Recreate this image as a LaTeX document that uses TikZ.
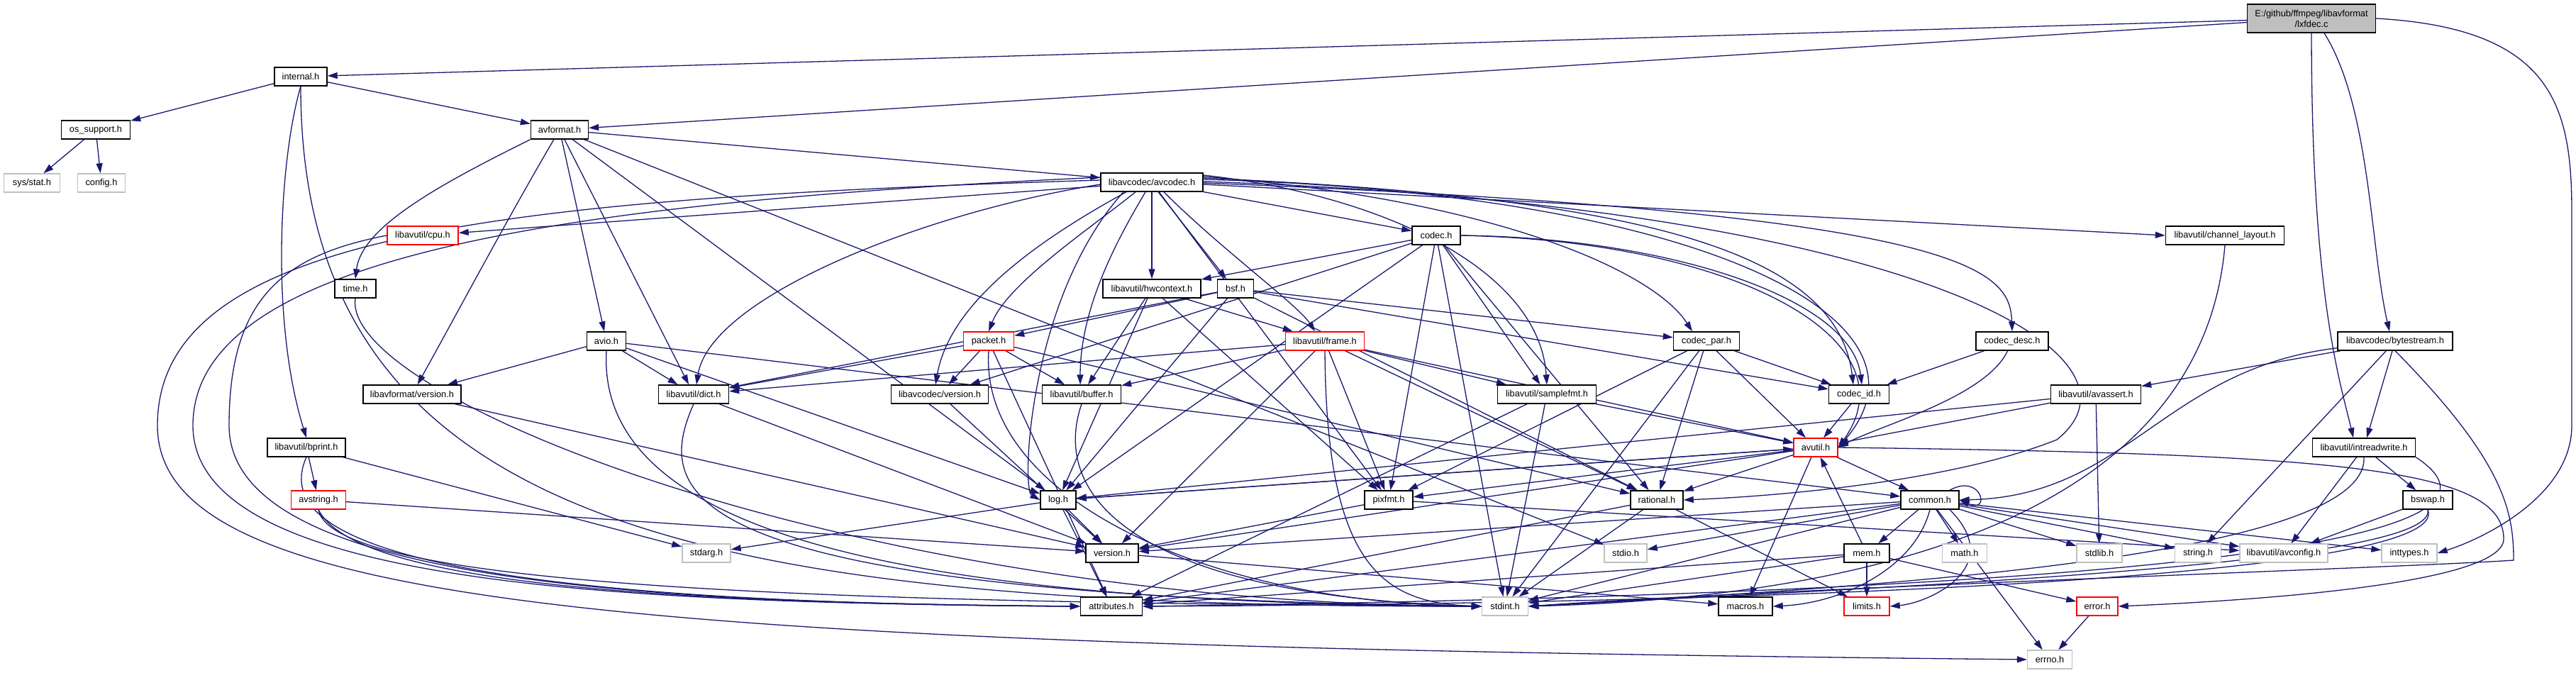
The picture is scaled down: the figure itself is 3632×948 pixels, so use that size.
\documentclass[tikz,border=0pt]{standalone}
\usepackage{fontspec}
\setmainfont{Liberation Sans}
\usetikzlibrary{arrows.meta}
\pgfdeclarelayer{bgl}
\pgfdeclarelayer{edges}
\pgfsetlayers{bgl,edges,main}
\definecolor{edgecol}{RGB}{25,25,112}
\definecolor{sysgray}{RGB}{191,191,191}
\definecolor{rootfill}{RGB}{191,191,191}
\newcommand{\nf}{\fontsize{12.8pt}{15pt}\selectfont}
\tikzset{
  hn/.style={draw=black, fill=white, line width=1.4pt, minimum height=26pt, inner sep=0pt, font=\nf},
  sysn/.style={hn, draw=sysgray},
  redn/.style={hn, draw=red},
  dep/.style={draw=edgecol, line width=1.3pt, -{Triangle[length=14pt,width=9pt]}},
}
\begin{document}
\begin{tikzpicture}[x=1pt,y=-1pt]
\begin{pgfonlayer}{bgl}
\fill[white] (0,0) rectangle (3632,948);
\end{pgfonlayer}
\useasboundingbox (0,0) rectangle (3632,948);
% nodes
\node[hn, minimum width=181pt, minimum height=40pt, fill=rootfill, align=center] (root) at (3259,26) {E:/github/ffmpeg/libavformat\\/lxfdec.c};
\node[hn, minimum width=74pt] (internal) at (424,108) {internal.h};
\node[hn, minimum width=97pt] (ossupport) at (135,183) {os\_support.h};
\node[sysn, minimum width=79pt] (sysstat) at (45,258) {sys/stat.h};
\node[sysn, minimum width=67pt] (config) at (143,258) {config.h};
\node[hn, minimum width=81pt] (avformat) at (789,183) {avformat.h};
\node[redn, minimum width=100pt] (cpu) at (596,332) {libavutil/cpu.h};
\node[hn, minimum width=58pt] (time) at (501,407) {time.h};
\node[hn, minimum width=55pt] (avio) at (855,481) {avio.h};
\node[hn, minimum width=138pt] (lfversion) at (581,556) {libavformat/version.h};
\node[hn, minimum width=110pt] (bprint) at (432,631) {libavutil/bprint.h};
\node[redn, minimum width=77pt] (avstring) at (449,705) {avstring.h};
\node[hn, minimum width=144pt] (avcodec) at (1624,257) {libavcodec/avcodec.h};
\node[hn, minimum width=138pt] (hwcontext) at (1624,407) {libavutil/hwcontext.h};
\node[hn, minimum width=51pt] (bsf) at (1742,407) {bsf.h};
\node[redn, minimum width=71pt] (packet) at (1394,481) {packet.h};
\node[hn, minimum width=99pt] (dict) at (978,556) {libavutil/dict.h};
\node[hn, minimum width=137pt] (lcversion) at (1325,556) {libavcodec/version.h};
\node[hn, minimum width=111pt] (buffer) at (1525,556) {libavutil/buffer.h};
\node[hn, minimum width=50pt] (log) at (1492,705) {log.h};
\node[sysn, minimum width=68pt] (stdarg) at (996,780) {stdarg.h};
\node[hn, minimum width=74pt] (version) at (1568,780) {version.h};
\node[hn, minimum width=87pt] (attributes) at (1567,855) {attributes.h};
\node[hn, minimum width=68pt] (codec) at (2025,332) {codec.h};
\node[redn, minimum width=111pt] (frame) at (1868,481) {libavutil/frame.h};
\node[hn, minimum width=93pt] (codecpar) at (2406,481) {codec\_par.h};
\node[hn, minimum width=139pt] (samplefmt) at (2181,556) {libavutil/samplefmt.h};
\node[hn, minimum width=85pt] (codecid) at (2621,556) {codec\_id.h};
\node[redn, minimum width=62pt] (avutil) at (2560,631) {avutil.h};
\node[hn, minimum width=68pt] (pixfmt) at (1958,705) {pixfmt.h};
\node[hn, minimum width=74pt] (rational) at (2336,705) {rational.h};
\node[hn, minimum width=82pt] (common) at (2721,705) {common.h};
\node[sysn, minimum width=60pt] (stdio) at (2292,780) {stdio.h};
\node[hn, minimum width=64pt] (mem) at (2632,780) {mem.h};
\node[sysn, minimum width=65pt] (stdint) at (2122,855) {stdint.h};
\node[hn, minimum width=76pt] (macros) at (2461,855) {macros.h};
\node[redn, minimum width=64pt] (limits) at (2632,855) {limits.h};
\node[hn, minimum width=167pt] (chlayout) at (3137,332) {libavutil/channel\_layout.h};
\node[hn, minimum width=102pt] (codecdesc) at (2837,481) {codec\_desc.h};
\node[hn, minimum width=162pt] (bytestream) at (3377,481) {libavcodec/bytestream.h};
\node[hn, minimum width=127pt] (avassert) at (2955,556) {libavutil/avassert.h};
\node[hn, minimum width=145pt] (intreadwrite) at (3333,631) {libavutil/intreadwrite.h};
\node[hn, minimum width=70pt] (bswap) at (3423,705) {bswap.h};
\node[sysn, minimum width=63pt] (math) at (2770,780) {math.h};
\node[sysn, minimum width=64pt] (stdlib) at (2960,780) {stdlib.h};
\node[sysn, minimum width=65pt] (string) at (3099,780) {string.h};
\node[sysn, minimum width=124pt] (avconfig) at (3220,780) {libavutil/avconfig.h};
\node[sysn, minimum width=78pt] (inttypes) at (3397,780) {inttypes.h};
\node[redn, minimum width=58pt] (error) at (2957,855) {error.h};
\node[sysn, minimum width=63pt] (errno) at (2890,930) {errno.h};

\begin{pgfonlayer}{edges}
% root
\draw[dep] (root) -- (internal);
\draw[dep] (root) -- (avformat);
\draw[dep] (root.south) .. controls (3259,420) and (3300,540) .. ([xshift=-15pt]intreadwrite.north);
\draw[dep] ([xshift=18pt]root.south) .. controls (3342,150) and (3342,350) .. ([xshift=-8pt]bytestream.north);
\draw[dep] (root.east) .. controls (3600,40) and (3626,150) .. (3626,300) -- (3626,600) .. controls (3626,700) and (3500,760) .. (inttypes.east);
% internal
\draw[dep] (internal) -- (ossupport);
\draw[dep] (internal) -- (avformat);
\draw[dep] (internal.south) .. controls (395,220) and (380,450) .. (bprint.north);
\draw[dep] (internal.south) .. controls (424,750) and (1000,855) .. (stdint.west);
% os_support
\draw[dep] (ossupport) -- (sysstat);
\draw[dep] (ossupport) -- (config);
% avformat
\draw[dep] (avformat.south west) .. controls (620,260) and (510,320) .. (time.north);
\draw[dep] (avformat) -- (stdio);
\draw[dep] (avformat) -- (avcodec);
\draw[dep] (avformat) -- (dict);
\draw[dep] (avformat) -- (log);
\draw[dep] (avformat) -- (avio);
\draw[dep] (avformat) .. controls (720,300) and (640,450) .. (lfversion);
% avcodec
\draw[dep] ([yshift=3pt]avcodec.west) .. controls (700,280) and (222,330) .. (222,600) .. controls (222,860) and (900,910) .. (errno.west);
\draw[dep] ([yshift=7pt]avcodec.west) .. controls (800,285) and (272,360) .. (272,600) .. controls (272,830) and (900,850) .. (attributes.west);
\draw[dep] ([yshift=10pt]avcodec.east) .. controls (1950,275) and (2170,380) .. (samplefmt.north);
\draw[dep] ([yshift=4pt]avcodec.east) .. controls (2400,272) and (2750,450) .. (avutil.east);
\draw[dep] ([xshift=-9pt]avcodec.south) .. controls (1580,330) and (1523,430) .. ([xshift=-2pt]buffer.north);
\draw[dep] (avcodec) -- (cpu);
\draw[dep] ([yshift=-3pt]avcodec.east) -- (chlayout.west);
\draw[dep] ([yshift=-3pt]avcodec.west) .. controls (1300,300) and (1000,420) .. ([xshift=4pt]dict.north);
\draw[dep] ([xshift=17pt]avcodec.south) .. controls (1720,350) and (1830,430) .. ([xshift=-14pt]frame.north);
\draw[dep] (avcodec.south) -- (hwcontext.north);
\draw[dep] ([xshift=-40pt]avcodec.south) .. controls (1450,420) and (1440,690) .. (log.west);
\draw[dep] (avcodec) -- (pixfmt);
\draw[dep] ([yshift=1pt]avcodec.east) .. controls (2700,290) and (3050,500) .. (2900,620) .. controls (2750,680) and (2500,700) .. (rational.east);
\draw[dep] ([xshift=9pt]avcodec.south) -- ([xshift=-13pt]bsf.north);
\draw[dep] (avcodec) -- (codec);
\draw[dep] ([yshift=-1pt]avcodec.east) .. controls (2780,300) and (2834,380) .. (codecdesc.north);
\draw[dep] ([yshift=8pt]avcodec.east) .. controls (2100,280) and (2330,380) .. ([xshift=-20pt]codecpar.north);
\draw[dep] ([yshift=6pt]avcodec.east) .. controls (2300,278) and (2590,350) .. ([xshift=-8pt]codecid.north);
\draw[dep] ([xshift=-23pt]avcodec.south) .. controls (1540,320) and (1420,400) .. (packet.north);
\draw[dep] ([xshift=-36pt]avcodec.south) .. controls (1480,330) and (1340,420) .. ([xshift=-6pt]lcversion.north);
% cpu, time, avio
\draw[dep] (cpu.west) .. controls (400,360) and (323,420) .. (323,600) .. controls (323,820) and (900,850) .. (attributes.west);
\draw[dep] (time.south) .. controls (480,560) and (1200,850) .. (stdint.west);
\draw[dep] (avio.south) .. controls (840,760) and (1300,850) .. (stdint.west);
\draw[dep] (avio) -- (common);
\draw[dep] (avio) -- (dict);
\draw[dep] (avio) -- (log);
\draw[dep] (avio) -- (lfversion);
\draw[dep] (lfversion) -- (version);
% bprint, avstring
\draw[dep] (bprint) -- (avstring);
\draw[dep] (bprint) -- (stdarg);
\draw[dep] (bprint.south) .. controls (380,760) and (600,850) .. (attributes.west);
\draw[dep] (avstring.south) .. controls (470,830) and (1200,850) .. (stdint.west);
\draw[dep] (avstring.south) .. controls (500,820) and (900,850) .. (attributes.west);
\draw[dep] (avstring) -- (version);
% dict, version, buffer, log
\draw[dep] (dict.south) .. controls (920,700) and (950,840) .. (stdint.west);
\draw[dep] (dict) -- (version);
\draw[dep] (lcversion) -- (version);
\draw[dep] (buffer.south) .. controls (1480,700) and (1600,840) .. (stdint.west);
\draw[dep] (log) -- (stdarg);
\draw[dep] (log) -- (avutil);
\draw[dep] (log) -- (attributes);
\draw[dep] (log) -- (version);
\draw[dep] (version) -- (macros);
% codec
\draw[dep] (codec) -- (stdint);
\draw[dep] (codec.east) .. controls (2450,340) and (2700,480) .. (avutil.east);
\draw[dep] (codec) -- (hwcontext);
\draw[dep] (codec) -- (log);
\draw[dep] (codec) -- (pixfmt);
\draw[dep] (codec) -- (rational);
\draw[dep] (codec) -- (samplefmt);
\draw[dep] (codec.east) .. controls (2350,335) and (2610,420) .. ([xshift=4pt]codecid.north);
\draw[dep] (codec) -- (lcversion);
% frame
\draw[dep] (frame.south) .. controls (1870,800) and (1950,850) .. (stdint.west);
\draw[dep] (frame) -- (avutil);
\draw[dep] (frame) -- (buffer);
\draw[dep] (frame) -- (dict);
\draw[dep] (frame) -- (rational);
\draw[dep] (frame) -- (samplefmt);
\draw[dep] (frame) -- (pixfmt);
\draw[dep] (frame) -- (version);
% hwcontext
\draw[dep] (hwcontext) -- (buffer);
\draw[dep] (hwcontext) -- (frame);
\draw[dep] (hwcontext) -- (log);
\draw[dep] (hwcontext) -- (pixfmt);
% bsf
\draw[dep] (bsf) -- (dict);
\draw[dep] (bsf) -- (log);
\draw[dep] (bsf) -- (rational);
\draw[dep] (bsf) -- (codecid);
\draw[dep] (bsf) -- (codecpar);
\draw[dep] (bsf) -- (packet);
% packet
\draw[dep] (packet.south) .. controls (1380,700) and (1700,850) .. (stdint.west);
\draw[dep] (packet) -- (attributes);
\draw[dep] (packet) -- (buffer);
\draw[dep] (packet) -- (dict);
\draw[dep] (packet) -- (rational);
\draw[dep] (packet) -- (lcversion);
% codec_par, codec_id, codec_desc, samplefmt, channel_layout
\draw[dep] (codecpar) -- (stdint);
\draw[dep] (codecpar) -- (avutil);
\draw[dep] (codecpar) -- (rational);
\draw[dep] (codecpar) -- (pixfmt);
\draw[dep] (codecpar) -- (codecid);
\draw[dep] (codecid) -- (avutil);
\draw[dep] (codecdesc) .. controls (2800,560) and (2650,600) .. (avutil.east);
\draw[dep] (codecdesc) -- (codecid);
\draw[dep] (samplefmt) -- (stdint);
\draw[dep] (samplefmt) -- (avutil);
\draw[dep] (samplefmt) -- (attributes);
\draw[dep] (chlayout.south) .. controls (3107,700) and (2700,840) .. (stdint.east);
% avutil
\draw[dep] (avutil) -- (common);
\draw[dep] (avutil.east) .. controls (3300,640) and (3530,660) .. (3530,760) .. controls (3530,830) and (3100,850) .. (error.east);
\draw[dep] (avutil) -- (rational);
\draw[dep] (avutil) -- (version);
\draw[dep] (avutil) -- (macros);
\draw[dep] (avutil) -- (log);
\draw[dep] (avutil) -- (pixfmt);
% pixfmt, rational
\draw[dep] (pixfmt) -- (avconfig);
\draw[dep] (pixfmt) -- (version);
\draw[dep] (rational) -- (stdint);
\draw[dep] (rational) -- (limits);
\draw[dep] (rational) -- (attributes);
% common
\draw[dep] (common) -- (errno);
\draw[dep] (common) -- (inttypes);
\draw[dep] ([xshift=28pt]common.south) .. controls (2830,800) and (2720,850) .. (limits.east);
\draw[dep] (common) -- (math);
\draw[dep] (common) -- (stdint);
\draw[dep] (common) -- (stdio);
\draw[dep] (common) -- (stdlib);
\draw[dep] (common) -- (string);
\draw[dep] (common) -- (attributes);
\draw[dep] (common.south) .. controls (2700,800) and (2600,850) .. (macros.east);
\draw[dep] (common) -- (version);
\draw[dep] (common) -- (avconfig);
\draw[dep] (common) -- (mem);
\draw[dep] ([xshift=-14pt]common.north east) .. controls +(45,-25) and +(45,20) .. (common.east);
% mem, error
\draw[dep] (mem) -- (limits);
\draw[dep] (mem) -- (stdint);
\draw[dep] (mem) -- (attributes);
\draw[dep] (mem) -- (error);
\draw[dep] (mem) -- (avutil);
\draw[dep] (error) -- (errno);
% bytestream
\draw[dep] (bytestream.south) .. controls (3530,650) and (3544,720) .. (3544,790) .. controls (3400,800) and (2500,830) .. (stdint.east);
\draw[dep] (bytestream) -- (string);
\draw[dep] (bytestream) -- (avassert);
\draw[dep] (bytestream) .. controls (3050,520) and (3000,700) .. (common.east);
\draw[dep] (bytestream) -- (intreadwrite);
% intreadwrite, bswap, avassert
\draw[dep] (intreadwrite.south) .. controls (3340,790) and (2600,830) .. (stdint.east);
\draw[dep] (intreadwrite) -- (avconfig);
\draw[dep] (intreadwrite.south east) .. controls (3520,720) and (3450,830) .. (attributes.east);
\draw[dep] (intreadwrite) -- (bswap);
\draw[dep] (bswap.south) .. controls (3440,800) and (2600,830) .. (stdint.east);
\draw[dep] (bswap) -- (avconfig);
\draw[dep] (bswap.south) .. controls (3460,810) and (2600,850) .. (attributes.east);
\draw[dep] (avassert) -- (stdlib);
\draw[dep] (avassert) -- (avutil);
\draw[dep] (avassert) -- (log);
\end{pgfonlayer}
\end{tikzpicture}
\end{document}
